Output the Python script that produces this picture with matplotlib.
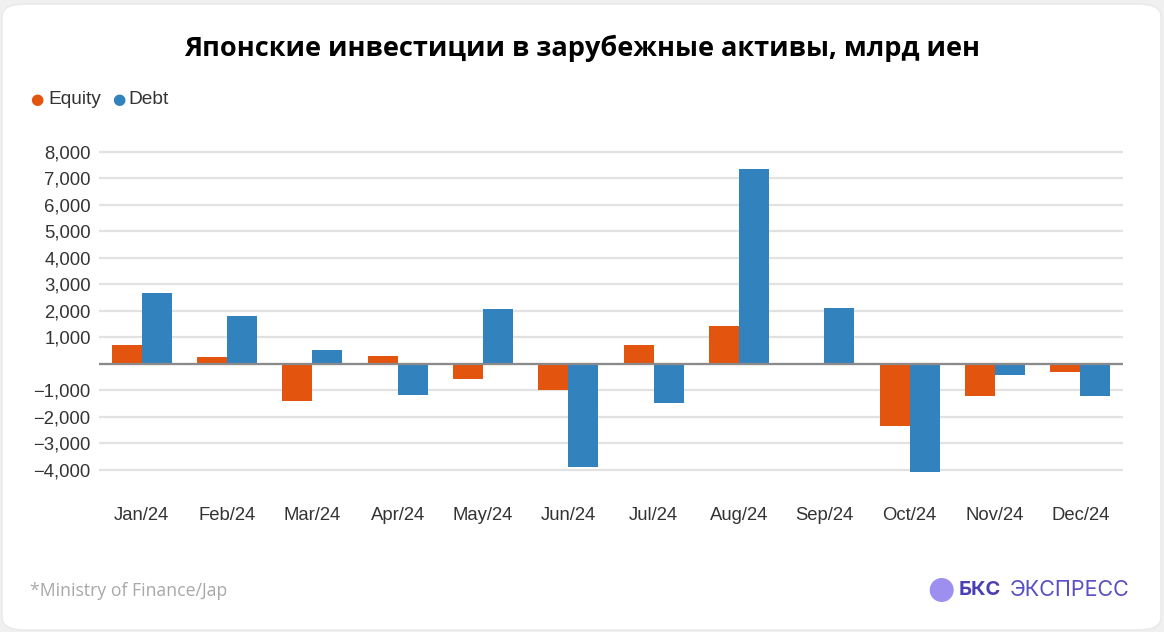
import numpy as np
import matplotlib
matplotlib.use("Agg")
import matplotlib.pyplot as plt
from matplotlib.patches import FancyBboxPatch, Ellipse
from matplotlib.ticker import FuncFormatter

# data (bn yen)
months = ['Jan/24', 'Feb/24', 'Mar/24', 'Apr/24', 'May/24', 'Jun/24',
          'Jul/24', 'Aug/24', 'Sep/24', 'Oct/24', 'Nov/24', 'Dec/24']
equity = [700, 250, -1400, 280, -580, -980, 720, 1410, 0, -2350, -1200, -300]
debt = [2670, 1800, 530, -1180, 2080, -3900, -1480, 7340, 2110, -4100, -440, -1200]
yticks = [-4000, -3000, -2000, -1000, 0, 1000, 2000, 3000, 4000, 5000, 6000, 7000, 8000]

EQ_COLOR = '#e3540f'
DEBT_COLOR = '#3282be'

W, H = 1164, 632
fig = plt.figure(figsize=(W / 100, H / 100), dpi=100)
fig.patch.set_facecolor('#f0f0f0')

# white card behind everything
card = FancyBboxPatch((2 / W, 2 / H), (W - 5) / W, (H - 6) / H,
                      boxstyle='round,pad=0,rounding_size=0.02',
                      transform=fig.transFigure, facecolor='white',
                      edgecolor='#e8e8e8', lw=1, zorder=-10)
fig.patches.append(card)

ax = fig.add_axes([99 / W, 1 - 480.3 / H, 1024 / W, (480.3 - 146.4) / H])
ax.set_facecolor('none')

x = np.arange(len(months))
bw = 0.35
ax.bar(x - bw / 2, equity, bw, color=EQ_COLOR, zorder=3)
ax.bar(x + bw / 2, debt, bw, color=DEBT_COLOR, zorder=3)

ax.set_xlim(-0.5, 11.5)
ax.set_ylim(-4400, 8200)
ax.set_yticks(yticks)
ax.yaxis.set_major_formatter(FuncFormatter(
    lambda v, p: '' if v == 0 else f'{v:,.0f}'.replace('-', '\u2212')))
ax.set_xticks(x)
ax.set_xticklabels(months)

ax.grid(axis='y', color='#e2e2e2', lw=1.6, zorder=0)
ax.axhline(0, color='#8a8a8a', lw=1.6, zorder=4)
for s in ax.spines.values():
    s.set_visible(False)
ax.tick_params(axis='both', length=0, labelsize=13.3, labelcolor='#333333')
ax.tick_params(axis='y', pad=6)
ax.tick_params(axis='x', pad=19)
for lbl in ax.get_xticklabels() + ax.get_yticklabels():
    lbl.set_fontfamily('Liberation Sans')

# title
fig.text(0.5, 1 - 48 / H, 'Японские инвестиции в зарубежные активы, млрд иен',
         ha='center', va='center', fontsize=19.5, fontweight='bold',
         family='Open Sans', color='black')

# legend
fig.text(36.7 / W, 1 - 100 / H, '\u25cf', ha='center', va='center',
         fontsize=11, color=EQ_COLOR, family='DejaVu Sans')
fig.text(48 / W, 1 - 100 / H, 'Equity', ha='left', va='center',
         fontsize=13.8, color='#333333', family='Liberation Sans')
fig.text(119 / W, 1 - 100 / H, '\u25cf', ha='center', va='center',
         fontsize=11, color=DEBT_COLOR, family='DejaVu Sans')
fig.text(128 / W, 1 - 100 / H, 'Debt', ha='left', va='center',
         fontsize=13.8, color='#333333', family='Liberation Sans')

# footer
fig.text(30 / W, 1 - 591 / H, '*Ministry of Finance/Jap', ha='left', va='center',
         fontsize=12.7, color='#a8a8a8', family='Open Sans')
logo = Ellipse((941.7 / W, 1 - 590 / H), 24 / W, 24 / H, transform=fig.transFigure,
               facecolor='#9d8ff0', edgecolor='none')
fig.patches.append(logo)
fig.text(959 / W, 1 - 590 / H, 'БКС', ha='left', va='center',
         fontsize=14.5, fontweight='bold', color='#4b3fb4', family='Inter')
fig.text(1010 / W, 1 - 590 / H, 'ЭКСПРЕСС', ha='left', va='center',
         fontsize=15.5, color='#5a4fc4', family='Inter')

fig.savefig('out.png', dpi=100, facecolor=fig.get_facecolor())
